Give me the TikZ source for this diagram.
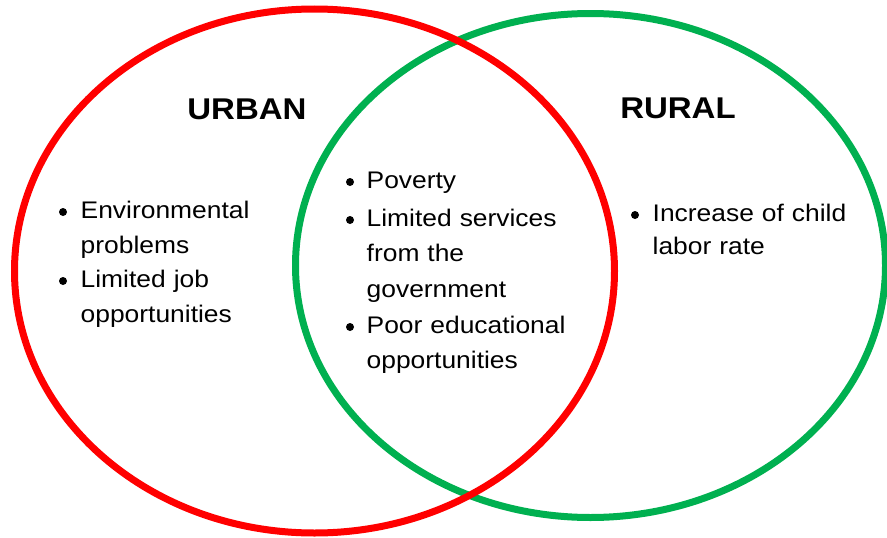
\documentclass[tikz,border=0pt]{standalone}
\usepackage{fontspec}
\setmainfont[FakeStretch=1.1]{Liberation Sans}
\definecolor{urbanred}{HTML}{FF0000}
\definecolor{ruralgreen}{HTML}{00B050}
\begin{document}
\begin{tikzpicture}[x=1pt,y=-1pt,
  ring/.style={line width=7pt},
  title/.style={font=\fontsize{30}{36}\selectfont\bfseries, anchor=base, inner sep=0pt},
  item/.style={font=\fontsize{24}{35}\selectfont, anchor=base west, inner sep=0pt,
               text width=260pt, align=left},
  dot/.style={circle, fill=black, inner sep=0pt, minimum size=8pt}]
\useasboundingbox (0,0) rectangle (887,538);

% the two sets; the red one lies on top
\draw[ring, ruralgreen] (590.5,265.5) ellipse [x radius=295pt, y radius=252pt];
\draw[ring, urbanred]   (314.5,271)   ellipse [x radius=300pt, y radius=262pt];

% set titles
\node[title] (urban) at (247,119) {URBAN};
\node[title] (rural) at (678,118) {RURAL};

% urban only
\node[dot]  (u1dot) at (63,212) {};
\node[item] (u1) at (80.5,218) {Environmental\\problems};
\node[dot]  (u2dot) at (63,281) {};
\node[item] (u2) at (80.5,287) {Limited job\\opportunities};

% shared
\node[dot]  (s1dot) at (350,182) {};
\node[item, font=\fontsize{24}{35.5}\selectfont] (s1) at (366.5,188) {Poverty};
\node[dot]  (s2dot) at (350,220) {};
\node[item, font=\fontsize{24}{35.5}\selectfont] (s2) at (366.5,226) {Limited services\\from the\\government};
\node[dot]  (s3dot) at (350,327) {};
\node[item, font=\fontsize{24}{35.5}\selectfont] (s3) at (366.5,333) {Poor educational\\opportunities};

% rural only
\node[dot]  (r1dot) at (635,215) {};
\node[item, font=\fontsize{24}{33}\selectfont] (r1) at (652.5,221) {Increase of child\\labor rate};
\end{tikzpicture}
\end{document}
